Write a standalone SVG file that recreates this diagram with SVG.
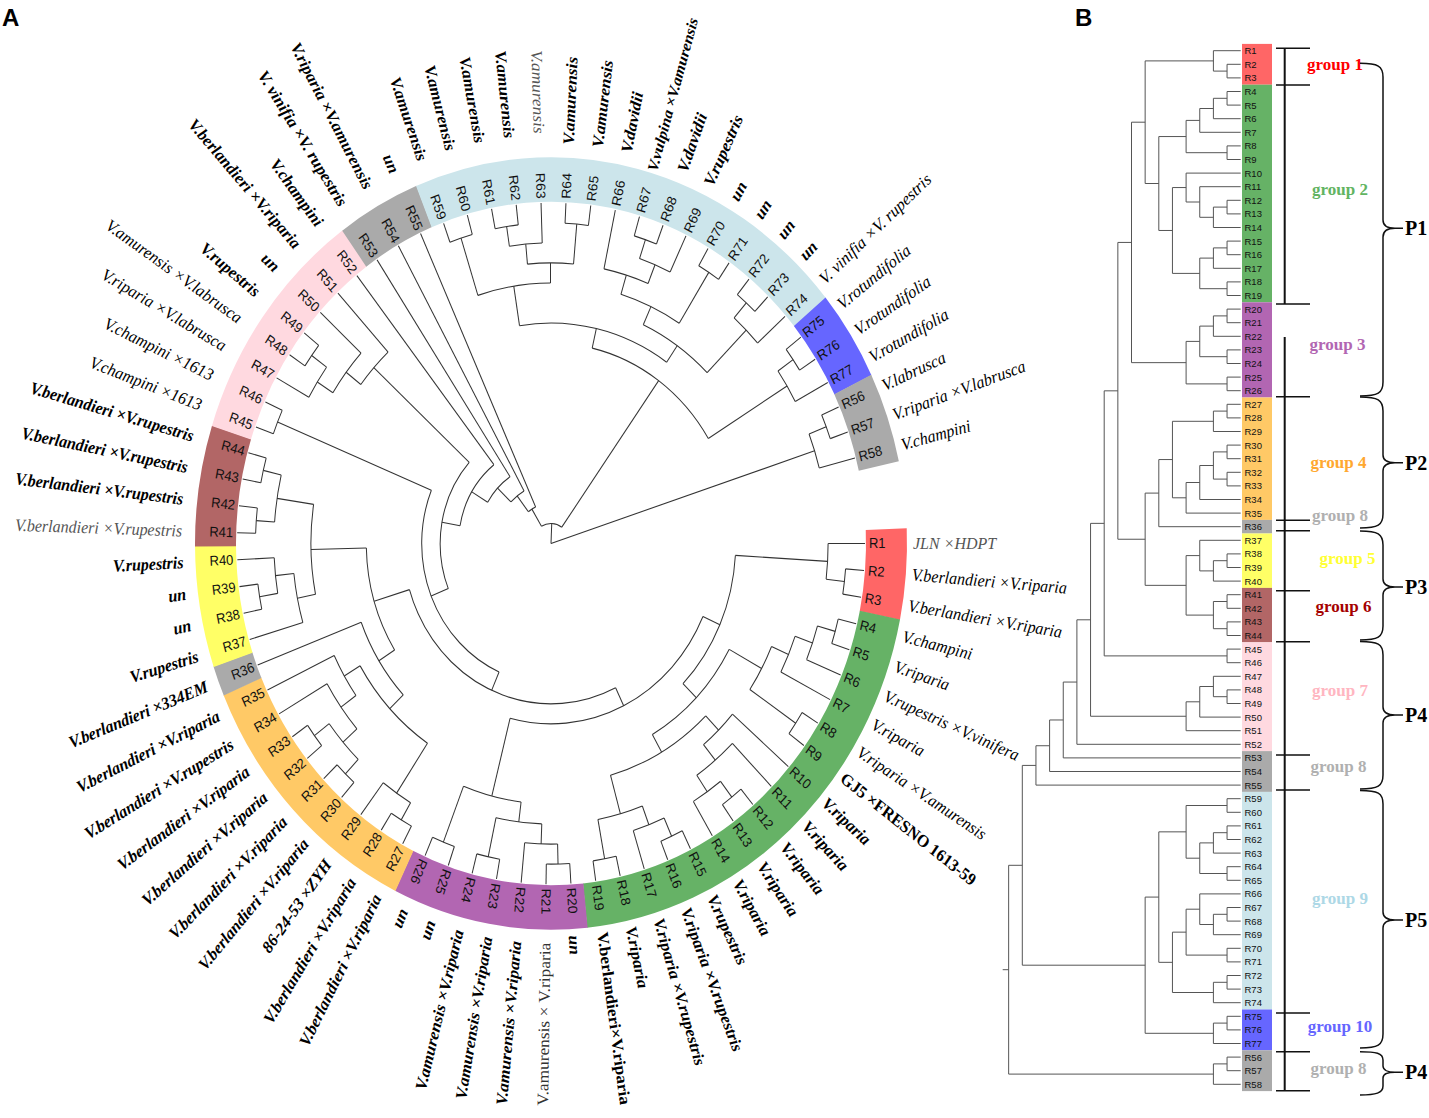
<svg xmlns="http://www.w3.org/2000/svg" width="1429" height="1118" viewBox="0 0 1429 1118">
<style>
.tr path,.tr circle{fill:none;stroke:#333;stroke-width:1}
.rl{font-family:"Liberation Sans",Arial,sans-serif;font-size:13px;fill:#111;dominant-baseline:central}
.sp{font-family:"Liberation Serif","Times New Roman",serif;font-size:16px;font-weight:bold;font-style:italic;fill:#000;dominant-baseline:central}
.ri{font-weight:normal}
.rg{font-weight:normal;fill:#555}
.bu{font-style:normal}
.ru{font-style:normal;font-weight:normal;fill:#333}
.f{text-anchor:end}
.ring circle{fill:none;stroke-width:41}
.bt path{fill:none;stroke:#555;stroke-width:1}
.bl{font-family:"Liberation Sans",Arial,sans-serif;font-size:9.5px;fill:#111;dominant-baseline:central}
.gl{font-family:"Liberation Serif","Times New Roman",serif;font-size:17px;font-weight:bold;text-anchor:middle;dominant-baseline:central}
.pl{font-family:"Liberation Serif","Times New Roman",serif;font-size:20px;font-weight:bold;fill:#000;dominant-baseline:central}
.br path{fill:none;stroke:#111;stroke-width:1.5}
.pn{font-family:"Liberation Sans",Arial,sans-serif;font-size:24px;font-weight:bold;fill:#000}
</style>
<rect width="1429" height="1118" fill="#fff"/>
<text class="pn" x="2" y="26">A</text>
<text class="pn" x="1075" y="26">B</text>
<g id="panelA" transform="translate(551 543.5) scale(1 1.085)">
<g id="ring" class="ring">
<circle r="335.5" pathLength="360" stroke="#FF6666" stroke-dasharray="13.73 400" transform="rotate(-2.273)"/>
<circle r="335.5" pathLength="360" stroke="#66B266" stroke-dasharray="72.8 400" transform="rotate(11.364)"/>
<circle r="335.5" pathLength="360" stroke="#B266B2" stroke-dasharray="31.9 400" transform="rotate(84.091)"/>
<circle r="335.5" pathLength="360" stroke="#FFC966" stroke-dasharray="41 400" transform="rotate(115.909)"/>
<circle r="335.5" pathLength="360" stroke="#AAAAAA" stroke-dasharray="4.64 400" transform="rotate(156.818)"/>
<circle r="335.5" pathLength="360" stroke="#FFFF66" stroke-dasharray="18.27 400" transform="rotate(161.364)"/>
<circle r="335.5" pathLength="360" stroke="#B26666" stroke-dasharray="18.27 400" transform="rotate(179.545)"/>
<circle r="335.5" pathLength="360" stroke="#FFD9E0" stroke-dasharray="36.45 400" transform="rotate(197.727)"/>
<circle r="335.5" pathLength="360" stroke="#AAAAAA" stroke-dasharray="13.73 400" transform="rotate(234.091)"/>
<circle r="335.5" pathLength="360" stroke="#CCE5EB" stroke-dasharray="72.8 400" transform="rotate(247.727)"/>
<circle r="335.5" pathLength="360" stroke="#6666FF" stroke-dasharray="13.73 400" transform="rotate(320.455)"/>
<circle r="335.5" pathLength="360" stroke="#AAAAAA" stroke-dasharray="13.64 400" transform="rotate(334.091)"/>
</g>
<g id="connectors-A" class="tr">
<circle r="295.5" pathLength="360" stroke-dasharray="4.545 999" transform="rotate(4.545)"/><path transform="rotate(4.545)" d="M295.5 0H314"/><path transform="rotate(9.091)" d="M295.5 0H314"/>
<circle r="277.1" pathLength="360" stroke-dasharray="6.818 999" transform="rotate(0)"/><path transform="rotate(0)" d="M277.1 0H314"/><path transform="rotate(6.818)" d="M277.1 0H295.5"/>
<circle r="295.5" pathLength="360" stroke-dasharray="4.546 999" transform="rotate(13.636)"/><path transform="rotate(13.636)" d="M295.5 0H314"/><path transform="rotate(18.182)" d="M295.5 0H314"/>
<circle r="277.1" pathLength="360" stroke-dasharray="6.818 999" transform="rotate(15.909)"/><path transform="rotate(15.909)" d="M277.1 0H295.5"/><path transform="rotate(22.727)" d="M277.1 0H314"/>
<circle r="258.6" pathLength="360" stroke-dasharray="7.955 999" transform="rotate(19.318)"/><path transform="rotate(19.318)" d="M258.6 0H277.1"/><path transform="rotate(27.273)" d="M258.6 0H314"/>
<circle r="295.5" pathLength="360" stroke-dasharray="4.546 999" transform="rotate(31.818)"/><path transform="rotate(31.818)" d="M295.5 0H314"/><path transform="rotate(36.364)" d="M295.5 0H314"/>
<circle r="240.1" pathLength="360" stroke-dasharray="10.796 999" transform="rotate(23.295)"/><path transform="rotate(23.295)" d="M240.1 0H258.6"/><path transform="rotate(34.091)" d="M240.1 0H295.5"/>
<circle r="295.5" pathLength="360" stroke-dasharray="4.545 999" transform="rotate(50)"/><path transform="rotate(50)" d="M295.5 0H314"/><path transform="rotate(54.545)" d="M295.5 0H314"/>
<circle r="277.1" pathLength="360" stroke-dasharray="6.818 999" transform="rotate(52.273)"/><path transform="rotate(52.273)" d="M277.1 0H295.5"/><path transform="rotate(59.091)" d="M277.1 0H314"/>
<circle r="258.6" pathLength="360" stroke-dasharray="10.227 999" transform="rotate(45.455)"/><path transform="rotate(45.455)" d="M258.6 0H314"/><path transform="rotate(55.682)" d="M258.6 0H277.1"/>
<circle r="240.1" pathLength="360" stroke-dasharray="9.659 999" transform="rotate(40.909)"/><path transform="rotate(40.909)" d="M240.1 0H314"/><path transform="rotate(50.568)" d="M240.1 0H258.6"/>
<circle r="295.5" pathLength="360" stroke-dasharray="4.546 999" transform="rotate(63.636)"/><path transform="rotate(63.636)" d="M295.5 0H314"/><path transform="rotate(68.182)" d="M295.5 0H314"/>
<circle r="277.1" pathLength="360" stroke-dasharray="6.818 999" transform="rotate(65.909)"/><path transform="rotate(65.909)" d="M277.1 0H295.5"/><path transform="rotate(72.727)" d="M277.1 0H314"/>
<circle r="295.5" pathLength="360" stroke-dasharray="4.545 999" transform="rotate(77.273)"/><path transform="rotate(77.273)" d="M295.5 0H314"/><path transform="rotate(81.818)" d="M295.5 0H314"/>
<circle r="258.6" pathLength="360" stroke-dasharray="10.227 999" transform="rotate(69.318)"/><path transform="rotate(69.318)" d="M258.6 0H277.1"/><path transform="rotate(79.545)" d="M258.6 0H295.5"/>
<circle r="221.7" pathLength="360" stroke-dasharray="28.693 999" transform="rotate(45.739)"/><path transform="rotate(45.739)" d="M221.7 0H240.1"/><path transform="rotate(74.432)" d="M221.7 0H258.6"/>
<circle r="203.2" pathLength="360" stroke-dasharray="31.392 999" transform="rotate(28.693)"/><path transform="rotate(28.693)" d="M203.2 0H240.1"/><path transform="rotate(60.085)" d="M203.2 0H221.7"/>
<circle r="184.7" pathLength="360" stroke-dasharray="40.98 999" transform="rotate(3.409)"/><path transform="rotate(3.409)" d="M184.7 0H277.1"/><path transform="rotate(44.389)" d="M184.7 0H203.2"/>
<circle r="295.5" pathLength="360" stroke-dasharray="4.545 999" transform="rotate(86.364)"/><path transform="rotate(86.364)" d="M295.5 0H314"/><path transform="rotate(90.909)" d="M295.5 0H314"/>
<circle r="277.1" pathLength="360" stroke-dasharray="6.819 999" transform="rotate(88.636)"/><path transform="rotate(88.636)" d="M277.1 0H295.5"/><path transform="rotate(95.455)" d="M277.1 0H314"/>
<circle r="295.5" pathLength="360" stroke-dasharray="4.545 999" transform="rotate(100)"/><path transform="rotate(100)" d="M295.5 0H314"/><path transform="rotate(104.545)" d="M295.5 0H314"/>
<circle r="258.6" pathLength="360" stroke-dasharray="10.228 999" transform="rotate(92.045)"/><path transform="rotate(92.045)" d="M258.6 0H277.1"/><path transform="rotate(102.273)" d="M258.6 0H295.5"/>
<circle r="295.5" pathLength="360" stroke-dasharray="4.545 999" transform="rotate(109.091)"/><path transform="rotate(109.091)" d="M295.5 0H314"/><path transform="rotate(113.636)" d="M295.5 0H314"/>
<circle r="240.1" pathLength="360" stroke-dasharray="14.205 999" transform="rotate(97.159)"/><path transform="rotate(97.159)" d="M240.1 0H258.6"/><path transform="rotate(111.364)" d="M240.1 0H295.5"/>
<circle r="166.2" pathLength="360" stroke-dasharray="80.362 999" transform="rotate(23.899)"/><path transform="rotate(23.899)" d="M166.2 0H184.7"/><path transform="rotate(104.261)" d="M166.2 0H240.1"/>
<circle r="295.5" pathLength="360" stroke-dasharray="4.545 999" transform="rotate(118.182)"/><path transform="rotate(118.182)" d="M295.5 0H314"/><path transform="rotate(122.727)" d="M295.5 0H314"/>
<circle r="277.1" pathLength="360" stroke-dasharray="6.818 999" transform="rotate(120.455)"/><path transform="rotate(120.455)" d="M277.1 0H295.5"/><path transform="rotate(127.273)" d="M277.1 0H314"/>
<circle r="295.5" pathLength="360" stroke-dasharray="4.546 999" transform="rotate(131.818)"/><path transform="rotate(131.818)" d="M295.5 0H314"/><path transform="rotate(136.364)" d="M295.5 0H314"/>
<circle r="295.5" pathLength="360" stroke-dasharray="4.546 999" transform="rotate(140.909)"/><path transform="rotate(140.909)" d="M295.5 0H314"/><path transform="rotate(145.455)" d="M295.5 0H314"/>
<circle r="277.1" pathLength="360" stroke-dasharray="9.091 999" transform="rotate(134.091)"/><path transform="rotate(134.091)" d="M277.1 0H295.5"/><path transform="rotate(143.182)" d="M277.1 0H295.5"/>
<circle r="258.6" pathLength="360" stroke-dasharray="11.364 999" transform="rotate(138.636)"/><path transform="rotate(138.636)" d="M258.6 0H277.1"/><path transform="rotate(150)" d="M258.6 0H314"/>
<circle r="240.1" pathLength="360" stroke-dasharray="10.227 999" transform="rotate(144.318)"/><path transform="rotate(144.318)" d="M240.1 0H258.6"/><path transform="rotate(154.545)" d="M240.1 0H314"/>
<circle r="221.7" pathLength="360" stroke-dasharray="25.568 999" transform="rotate(123.864)"/><path transform="rotate(123.864)" d="M221.7 0H277.1"/><path transform="rotate(149.432)" d="M221.7 0H240.1"/>
<circle r="203.2" pathLength="360" stroke-dasharray="22.443 999" transform="rotate(136.648)"/><path transform="rotate(136.648)" d="M203.2 0H221.7"/><path transform="rotate(159.091)" d="M203.2 0H314"/>
<circle r="295.5" pathLength="360" stroke-dasharray="4.545 999" transform="rotate(168.182)"/><path transform="rotate(168.182)" d="M295.5 0H314"/><path transform="rotate(172.727)" d="M295.5 0H314"/>
<circle r="277.1" pathLength="360" stroke-dasharray="6.818 999" transform="rotate(170.455)"/><path transform="rotate(170.455)" d="M277.1 0H295.5"/><path transform="rotate(177.273)" d="M277.1 0H314"/>
<circle r="258.6" pathLength="360" stroke-dasharray="10.228 999" transform="rotate(163.636)"/><path transform="rotate(163.636)" d="M258.6 0H314"/><path transform="rotate(173.864)" d="M258.6 0H277.1"/>
<circle r="295.5" pathLength="360" stroke-dasharray="4.546 999" transform="rotate(181.818)"/><path transform="rotate(181.818)" d="M295.5 0H314"/><path transform="rotate(186.364)" d="M295.5 0H314"/>
<circle r="295.5" pathLength="360" stroke-dasharray="4.546 999" transform="rotate(190.909)"/><path transform="rotate(190.909)" d="M295.5 0H314"/><path transform="rotate(195.455)" d="M295.5 0H314"/>
<circle r="277.1" pathLength="360" stroke-dasharray="9.091 999" transform="rotate(184.091)"/><path transform="rotate(184.091)" d="M277.1 0H295.5"/><path transform="rotate(193.182)" d="M277.1 0H295.5"/>
<circle r="240.1" pathLength="360" stroke-dasharray="19.886 999" transform="rotate(168.75)"/><path transform="rotate(168.75)" d="M240.1 0H258.6"/><path transform="rotate(188.636)" d="M240.1 0H277.1"/>
<circle r="184.7" pathLength="360" stroke-dasharray="30.824 999" transform="rotate(147.869)"/><path transform="rotate(147.869)" d="M184.7 0H203.2"/><path transform="rotate(178.693)" d="M184.7 0H240.1"/>
<circle r="147.8" pathLength="360" stroke-dasharray="99.201 999" transform="rotate(64.08)"/><path transform="rotate(64.08)" d="M147.8 0H166.2"/><path transform="rotate(163.281)" d="M147.8 0H184.7"/>
<circle r="295.5" pathLength="360" stroke-dasharray="4.545 999" transform="rotate(200)"/><path transform="rotate(200)" d="M295.5 0H314"/><path transform="rotate(204.545)" d="M295.5 0H314"/>
<circle r="129.3" pathLength="360" stroke-dasharray="88.592 999" transform="rotate(113.681)"/><path transform="rotate(113.681)" d="M129.3 0H147.8"/><path transform="rotate(202.273)" d="M129.3 0H295.5"/>
<circle r="295.5" pathLength="360" stroke-dasharray="4.546 999" transform="rotate(213.636)"/><path transform="rotate(213.636)" d="M295.5 0H314"/><path transform="rotate(218.182)" d="M295.5 0H314"/>
<circle r="277.1" pathLength="360" stroke-dasharray="6.818 999" transform="rotate(209.091)"/><path transform="rotate(209.091)" d="M277.1 0H314"/><path transform="rotate(215.909)" d="M277.1 0H295.5"/>
<circle r="258.6" pathLength="360" stroke-dasharray="10.227 999" transform="rotate(212.5)"/><path transform="rotate(212.5)" d="M258.6 0H277.1"/><path transform="rotate(222.727)" d="M258.6 0H314"/>
<circle r="240.1" pathLength="360" stroke-dasharray="9.659 999" transform="rotate(217.614)"/><path transform="rotate(217.614)" d="M240.1 0H258.6"/><path transform="rotate(227.273)" d="M240.1 0H314"/>
<circle r="110.8" pathLength="360" stroke-dasharray="64.466 999" transform="rotate(157.977)"/><path transform="rotate(157.977)" d="M110.8 0H129.3"/><path transform="rotate(222.443)" d="M110.8 0H240.1"/>
<circle r="92.4" pathLength="360" stroke-dasharray="41.608 999" transform="rotate(190.21)"/><path transform="rotate(190.21)" d="M92.4 0H110.8"/><path transform="rotate(231.818)" d="M92.4 0H314"/>
<circle r="73.9" pathLength="360" stroke-dasharray="25.35 999" transform="rotate(211.014)"/><path transform="rotate(211.014)" d="M73.9 0H92.4"/><path transform="rotate(236.364)" d="M73.9 0H314"/>
<circle r="55.4" pathLength="360" stroke-dasharray="17.22 999" transform="rotate(223.689)"/><path transform="rotate(223.689)" d="M55.4 0H73.9"/><path transform="rotate(240.909)" d="M55.4 0H314"/>
<circle r="37" pathLength="360" stroke-dasharray="13.156 999" transform="rotate(232.299)"/><path transform="rotate(232.299)" d="M37 0H55.4"/><path transform="rotate(245.455)" d="M37 0H314"/>
<circle r="295.5" pathLength="360" stroke-dasharray="4.545 999" transform="rotate(250)"/><path transform="rotate(250)" d="M295.5 0H314"/><path transform="rotate(254.545)" d="M295.5 0H314"/>
<circle r="295.5" pathLength="360" stroke-dasharray="4.545 999" transform="rotate(259.091)"/><path transform="rotate(259.091)" d="M295.5 0H314"/><path transform="rotate(263.636)" d="M295.5 0H314"/>
<circle r="277.1" pathLength="360" stroke-dasharray="6.818 999" transform="rotate(261.364)"/><path transform="rotate(261.364)" d="M277.1 0H295.5"/><path transform="rotate(268.182)" d="M277.1 0H314"/>
<circle r="295.5" pathLength="360" stroke-dasharray="4.546 999" transform="rotate(272.727)"/><path transform="rotate(272.727)" d="M295.5 0H314"/><path transform="rotate(277.273)" d="M295.5 0H314"/>
<circle r="258.6" pathLength="360" stroke-dasharray="10.227 999" transform="rotate(264.773)"/><path transform="rotate(264.773)" d="M258.6 0H277.1"/><path transform="rotate(275)" d="M258.6 0H295.5"/>
<circle r="240.1" pathLength="360" stroke-dasharray="17.613 999" transform="rotate(252.273)"/><path transform="rotate(252.273)" d="M240.1 0H295.5"/><path transform="rotate(269.886)" d="M240.1 0H258.6"/>
<circle r="295.5" pathLength="360" stroke-dasharray="4.545 999" transform="rotate(286.364)"/><path transform="rotate(286.364)" d="M295.5 0H314"/><path transform="rotate(290.909)" d="M295.5 0H314"/>
<circle r="277.1" pathLength="360" stroke-dasharray="6.819 999" transform="rotate(288.636)"/><path transform="rotate(288.636)" d="M277.1 0H295.5"/><path transform="rotate(295.455)" d="M277.1 0H314"/>
<circle r="258.6" pathLength="360" stroke-dasharray="10.227 999" transform="rotate(281.818)"/><path transform="rotate(281.818)" d="M258.6 0H314"/><path transform="rotate(292.045)" d="M258.6 0H277.1"/>
<circle r="295.5" pathLength="360" stroke-dasharray="4.545 999" transform="rotate(300)"/><path transform="rotate(300)" d="M295.5 0H314"/><path transform="rotate(304.545)" d="M295.5 0H314"/>
<circle r="240.1" pathLength="360" stroke-dasharray="15.341 999" transform="rotate(286.932)"/><path transform="rotate(286.932)" d="M240.1 0H258.6"/><path transform="rotate(302.273)" d="M240.1 0H295.5"/>
<circle r="295.5" pathLength="360" stroke-dasharray="4.545 999" transform="rotate(309.091)"/><path transform="rotate(309.091)" d="M295.5 0H314"/><path transform="rotate(313.636)" d="M295.5 0H314"/>
<circle r="277.1" pathLength="360" stroke-dasharray="6.818 999" transform="rotate(311.364)"/><path transform="rotate(311.364)" d="M277.1 0H295.5"/><path transform="rotate(318.182)" d="M277.1 0H314"/>
<circle r="221.7" pathLength="360" stroke-dasharray="20.171 999" transform="rotate(294.602)"/><path transform="rotate(294.602)" d="M221.7 0H240.1"/><path transform="rotate(314.773)" d="M221.7 0H277.1"/>
<circle r="203.2" pathLength="360" stroke-dasharray="43.608 999" transform="rotate(261.08)"/><path transform="rotate(261.08)" d="M203.2 0H240.1"/><path transform="rotate(304.688)" d="M203.2 0H221.7"/>
<circle r="295.5" pathLength="360" stroke-dasharray="4.546 999" transform="rotate(322.727)"/><path transform="rotate(322.727)" d="M295.5 0H314"/><path transform="rotate(327.273)" d="M295.5 0H314"/>
<circle r="277.1" pathLength="360" stroke-dasharray="6.818 999" transform="rotate(325)"/><path transform="rotate(325)" d="M277.1 0H295.5"/><path transform="rotate(331.818)" d="M277.1 0H314"/>
<circle r="184.7" pathLength="360" stroke-dasharray="45.525 999" transform="rotate(282.884)"/><path transform="rotate(282.884)" d="M184.7 0H203.2"/><path transform="rotate(328.409)" d="M184.7 0H277.1"/>
<circle r="18.5" pathLength="360" stroke-dasharray="66.769 999" transform="rotate(238.877)"/><path transform="rotate(238.877)" d="M18.5 0H37"/><path transform="rotate(305.646)" d="M18.5 0H184.7"/>
<circle r="295.5" pathLength="360" stroke-dasharray="4.545 999" transform="rotate(336.364)"/><path transform="rotate(336.364)" d="M295.5 0H314"/><path transform="rotate(340.909)" d="M295.5 0H314"/>
<circle r="277.1" pathLength="360" stroke-dasharray="6.819 999" transform="rotate(338.636)"/><path transform="rotate(338.636)" d="M277.1 0H295.5"/><path transform="rotate(345.455)" d="M277.1 0H314"/>
<path transform="rotate(272.261)" d="M0 0H18.5"/><path transform="rotate(342.045)" d="M0 0H277.1"/>
</g>
<g id="leaves-A">
<g id="a-R1"><text class="rl" transform="rotate(0)" x="318">R1</text><text class="sp rg" transform="rotate(0)" x="362">JLN ×HDPT</text></g>
<g id="a-R2"><text class="rl" transform="rotate(4.545)" x="318">R2</text><text class="sp ri" transform="rotate(4.545)" x="362">V.berlandieri ×V.riparia</text></g>
<g id="a-R3"><text class="rl" transform="rotate(9.091)" x="318">R3</text><text class="sp ri" transform="rotate(9.091)" x="362">V.berlandieri ×V.riparia</text></g>
<g id="a-R4"><text class="rl" transform="rotate(13.636)" x="318">R4</text><text class="sp ri" transform="rotate(13.636)" x="362">V.champini</text></g>
<g id="a-R5"><text class="rl" transform="rotate(18.182)" x="318">R5</text><text class="sp ri" transform="rotate(18.182)" x="362">V.riparia</text></g>
<g id="a-R6"><text class="rl" transform="rotate(22.727)" x="318">R6</text><text class="sp ri" transform="rotate(22.727)" x="362">V.rupestris ×V.vinifera</text></g>
<g id="a-R7"><text class="rl" transform="rotate(27.273)" x="318">R7</text><text class="sp ri" transform="rotate(27.273)" x="362">V.riparia</text></g>
<g id="a-R8"><text class="rl" transform="rotate(31.818)" x="318">R8</text><text class="sp ri" transform="rotate(31.818)" x="362">V.riparia ×V.amurensis</text></g>
<g id="a-R9"><text class="rl" transform="rotate(36.364)" x="318">R9</text><text class="sp bu" transform="rotate(36.364)" x="362">GJ5 ×FRESNO 1613-59</text></g>
<g id="a-R10"><text class="rl" transform="rotate(40.909)" x="318">R10</text><text class="sp" transform="rotate(40.909)" x="362">V.riparia</text></g>
<g id="a-R11"><text class="rl" transform="rotate(45.455)" x="318">R11</text><text class="sp" transform="rotate(45.455)" x="362">V.riparia</text></g>
<g id="a-R12"><text class="rl" transform="rotate(50)" x="318">R12</text><text class="sp" transform="rotate(50)" x="362">V.riparia</text></g>
<g id="a-R13"><text class="rl" transform="rotate(54.545)" x="318">R13</text><text class="sp" transform="rotate(54.545)" x="362">V.riparia</text></g>
<g id="a-R14"><text class="rl" transform="rotate(59.091)" x="318">R14</text><text class="sp" transform="rotate(59.091)" x="362">V.riparia</text></g>
<g id="a-R15"><text class="rl" transform="rotate(63.636)" x="318">R15</text><text class="sp" transform="rotate(63.636)" x="362">V.rupestris</text></g>
<g id="a-R16"><text class="rl" transform="rotate(68.182)" x="318">R16</text><text class="sp" transform="rotate(68.182)" x="362">V.riparia ×V.rupestris</text></g>
<g id="a-R17"><text class="rl" transform="rotate(72.727)" x="318">R17</text><text class="sp" transform="rotate(72.727)" x="362">V.riparia ×V.rupestris</text></g>
<g id="a-R18"><text class="rl" transform="rotate(77.273)" x="318">R18</text><text class="sp" transform="rotate(77.273)" x="362">V.riparia</text></g>
<g id="a-R19"><text class="rl" transform="rotate(81.818)" x="318">R19</text><text class="sp bu" transform="rotate(81.818)" x="362">V.berlandieri×V.riparia</text></g>
<g id="a-R20"><text class="rl" transform="rotate(86.364)" x="318">R20</text><text class="sp" transform="rotate(86.364)" x="362">un</text></g>
<g id="a-R21"><text class="rl" transform="rotate(90.909)" x="318">R21</text><text class="sp ru f" transform="rotate(-89.091)" x="-368">V.amurensis × V.riparia</text></g>
<g id="a-R22"><text class="rl" transform="rotate(95.455)" x="318">R22</text><text class="sp f" transform="rotate(-84.545)" x="-368">V.amurensis ×V.riparia</text></g>
<g id="a-R23"><text class="rl" transform="rotate(100)" x="318">R23</text><text class="sp f" transform="rotate(-80)" x="-368">V.amurensis ×V.riparia</text></g>
<g id="a-R24"><text class="rl" transform="rotate(104.545)" x="318">R24</text><text class="sp f" transform="rotate(-75.455)" x="-368">V.amurensis ×V.riparia</text></g>
<g id="a-R25"><text class="rl" transform="rotate(109.091)" x="318">R25</text><text class="sp f" transform="rotate(-70.909)" x="-368">un</text></g>
<g id="a-R26"><text class="rl" transform="rotate(113.636)" x="318">R26</text><text class="sp f" transform="rotate(-66.364)" x="-368">un</text></g>
<g id="a-R27"><text class="rl f" transform="rotate(-61.818)" x="-318">R27</text><text class="sp f" transform="rotate(-61.818)" x="-368">V.berlandieri ×V.riparia</text></g>
<g id="a-R28"><text class="rl f" transform="rotate(-57.273)" x="-318">R28</text><text class="sp f" transform="rotate(-57.273)" x="-368">V.berlandieri ×V.riparia</text></g>
<g id="a-R29"><text class="rl f" transform="rotate(-52.727)" x="-318">R29</text><text class="sp f" transform="rotate(-52.727)" x="-368">86-24-53 ×ZYH</text></g>
<g id="a-R30"><text class="rl f" transform="rotate(-48.182)" x="-318">R30</text><text class="sp f" transform="rotate(-48.182)" x="-368">V.berlandieri ×V.riparia</text></g>
<g id="a-R31"><text class="rl f" transform="rotate(-43.636)" x="-318">R31</text><text class="sp f" transform="rotate(-43.636)" x="-368">V.berlandieri ×V.riparia</text></g>
<g id="a-R32"><text class="rl f" transform="rotate(-39.091)" x="-318">R32</text><text class="sp f" transform="rotate(-39.091)" x="-368">V.berlandieri ×V.riparia</text></g>
<g id="a-R33"><text class="rl f" transform="rotate(-34.545)" x="-318">R33</text><text class="sp f" transform="rotate(-34.545)" x="-368">V.berlandieri ×V.riparia</text></g>
<g id="a-R34"><text class="rl f" transform="rotate(-30)" x="-318">R34</text><text class="sp f" transform="rotate(-30)" x="-368">V.berlandieri ×V.rupestris</text></g>
<g id="a-R35"><text class="rl f" transform="rotate(-25.455)" x="-318">R35</text><text class="sp f" transform="rotate(-25.455)" x="-368">V.berlandieri ×V.riparia</text></g>
<g id="a-R36"><text class="rl f" transform="rotate(-20.909)" x="-318">R36</text><text class="sp f" transform="rotate(-20.909)" x="-368">V.berlandieri ×334EM</text></g>
<g id="a-R37"><text class="rl f" transform="rotate(-16.364)" x="-318">R37</text><text class="sp f" transform="rotate(-16.364)" x="-368">V.rupestris</text></g>
<g id="a-R38"><text class="rl f" transform="rotate(-11.818)" x="-318">R38</text><text class="sp f" transform="rotate(-11.818)" x="-368">un</text></g>
<g id="a-R39"><text class="rl f" transform="rotate(-7.273)" x="-318">R39</text><text class="sp f" transform="rotate(-7.273)" x="-368">un</text></g>
<g id="a-R40"><text class="rl f" transform="rotate(-2.727)" x="-318">R40</text><text class="sp f" transform="rotate(-2.727)" x="-368">V.rupestris</text></g>
<g id="a-R41"><text class="rl f" transform="rotate(1.818)" x="-318">R41</text><text class="sp rg f" transform="rotate(1.818)" x="-369">V.berlandieri ×V.rupestris</text></g>
<g id="a-R42"><text class="rl f" transform="rotate(6.364)" x="-318">R42</text><text class="sp f" transform="rotate(6.364)" x="-370">V.berlandieri ×V.rupestris</text></g>
<g id="a-R43"><text class="rl f" transform="rotate(10.909)" x="-318">R43</text><text class="sp f" transform="rotate(10.909)" x="-370">V.berlandieri ×V.rupestris</text></g>
<g id="a-R44"><text class="rl f" transform="rotate(15.455)" x="-318">R44</text><text class="sp f" transform="rotate(15.455)" x="-371">V.berlandieri ×V.rupestris</text></g>
<g id="a-R45"><text class="rl f" transform="rotate(20)" x="-318">R45</text><text class="sp ri f" transform="rotate(20)" x="-372">V.champini ×1613</text></g>
<g id="a-R46"><text class="rl f" transform="rotate(24.545)" x="-318">R46</text><text class="sp ri f" transform="rotate(24.545)" x="-372">V.champini ×1613</text></g>
<g id="a-R47"><text class="rl f" transform="rotate(29.091)" x="-318">R47</text><text class="sp ri f" transform="rotate(29.091)" x="-373">V.riparia ×V.labrusca</text></g>
<g id="a-R48"><text class="rl f" transform="rotate(33.636)" x="-318">R48</text><text class="sp ri f" transform="rotate(33.636)" x="-373">V.amurensis ×V.labrusca</text></g>
<g id="a-R49"><text class="rl f" transform="rotate(38.182)" x="-318">R49</text><text class="sp f" transform="rotate(38.182)" x="-373">V.rupestris</text></g>
<g id="a-R50"><text class="rl f" transform="rotate(42.727)" x="-318">R50</text><text class="sp f" transform="rotate(42.727)" x="-373">un</text></g>
<g id="a-R51"><text class="rl f" transform="rotate(47.273)" x="-318">R51</text><text class="sp f" transform="rotate(47.273)" x="-373">V.berlandieri ×V.riparia</text></g>
<g id="a-R52"><text class="rl f" transform="rotate(51.818)" x="-318">R52</text><text class="sp f" transform="rotate(51.818)" x="-374">V.champini</text></g>
<g id="a-R53"><text class="rl f" transform="rotate(56.364)" x="-318">R53</text><text class="sp f" transform="rotate(56.364)" x="-375">V. vinifia ×V. rupestris</text></g>
<g id="a-R54"><text class="rl f" transform="rotate(60.909)" x="-318">R54</text><text class="sp f" transform="rotate(60.909)" x="-375">V.riparia ×V.amurensis</text></g>
<g id="a-R55"><text class="rl f" transform="rotate(65.455)" x="-318">R55</text><text class="sp f" transform="rotate(65.455)" x="-376">un</text></g>
<g id="a-R59"><text class="rl f" transform="rotate(70)" x="-318">R59</text><text class="sp f" transform="rotate(70)" x="-376">V.amurensis</text></g>
<g id="a-R60"><text class="rl f" transform="rotate(74.545)" x="-318">R60</text><text class="sp f" transform="rotate(74.545)" x="-376">V.amurensis</text></g>
<g id="a-R61"><text class="rl f" transform="rotate(79.091)" x="-318">R61</text><text class="sp f" transform="rotate(79.091)" x="-376">V.amurensis</text></g>
<g id="a-R62"><text class="rl f" transform="rotate(83.636)" x="-318">R62</text><text class="sp f" transform="rotate(83.636)" x="-376">V.amurensis</text></g>
<g id="a-R63"><text class="rl f" transform="rotate(88.182)" x="-318">R63</text><text class="sp rg f" transform="rotate(88.182)" x="-378">V.amurensis</text></g>
<g id="a-R64"><text class="rl" transform="rotate(272.727)" x="318">R64</text><text class="sp" transform="rotate(272.727)" x="368">V.amurensis</text></g>
<g id="a-R65"><text class="rl" transform="rotate(277.273)" x="318">R65</text><text class="sp" transform="rotate(277.273)" x="368">V.amurensis</text></g>
<g id="a-R66"><text class="rl" transform="rotate(281.818)" x="318">R66</text><text class="sp" transform="rotate(281.818)" x="368">V.davidii</text></g>
<g id="a-R67"><text class="rl" transform="rotate(286.364)" x="318">R67</text><text class="sp" transform="rotate(286.364)" x="358" style="font-size:15px">V.vulpina ×V.amurensis</text></g>
<g id="a-R68"><text class="rl" transform="rotate(290.909)" x="318">R68</text><text class="sp" transform="rotate(290.909)" x="367">V.davidii</text></g>
<g id="a-R69"><text class="rl" transform="rotate(295.455)" x="318">R69</text><text class="sp" transform="rotate(295.455)" x="366">V.rupestris</text></g>
<g id="a-R70"><text class="rl" transform="rotate(300)" x="318">R70</text><text class="sp" transform="rotate(300)" x="366">un</text></g>
<g id="a-R71"><text class="rl" transform="rotate(304.545)" x="318">R71</text><text class="sp" transform="rotate(304.545)" x="365">un</text></g>
<g id="a-R72"><text class="rl" transform="rotate(309.091)" x="318">R72</text><text class="sp" transform="rotate(309.091)" x="364">un</text></g>
<g id="a-R73"><text class="rl" transform="rotate(313.636)" x="318">R73</text><text class="sp" transform="rotate(313.636)" x="364">un</text></g>
<g id="a-R74"><text class="rl" transform="rotate(318.182)" x="318">R74</text><text class="sp ri" transform="rotate(318.182)" x="363">V. vinifia ×V. rupestris</text></g>
<g id="a-R75"><text class="rl" transform="rotate(322.727)" x="318">R75</text><text class="sp ri" transform="rotate(322.727)" x="362">V.rotundifolia</text></g>
<g id="a-R76"><text class="rl" transform="rotate(327.273)" x="318">R76</text><text class="sp ri" transform="rotate(327.273)" x="362">V.rotundifolia</text></g>
<g id="a-R77"><text class="rl" transform="rotate(331.818)" x="318">R77</text><text class="sp ri" transform="rotate(331.818)" x="362">V.rotundifolia</text></g>
<g id="a-R56"><text class="rl" transform="rotate(336.364)" x="318">R56</text><text class="sp ri" transform="rotate(336.364)" x="362">V.labrusca</text></g>
<g id="a-R57"><text class="rl" transform="rotate(340.909)" x="318">R57</text><text class="sp ri" transform="rotate(340.909)" x="362">V.riparia ×V.labrusca</text></g>
<g id="a-R58"><text class="rl" transform="rotate(345.455)" x="318">R58</text><text class="sp ri" transform="rotate(345.455)" x="362">V.champini</text></g>
</g>
</g>
<g id="panelB">
<g id="strip">
<rect x="1242" y="43.9" width="30" height="40.8" fill="#FF6666"/>
<rect x="1242" y="84.7" width="30" height="217.6" fill="#66B266"/>
<rect x="1242" y="302.3" width="30" height="95.2" fill="#B266B2"/>
<rect x="1242" y="397.5" width="30" height="122.4" fill="#FFC966"/>
<rect x="1242" y="519.9" width="30" height="13.6" fill="#AAAAAA"/>
<rect x="1242" y="533.5" width="30" height="54.4" fill="#FFFF66"/>
<rect x="1242" y="587.9" width="30" height="54.4" fill="#B26666"/>
<rect x="1242" y="642.3" width="30" height="108.8" fill="#FFD9E0"/>
<rect x="1242" y="751.1" width="30" height="40.8" fill="#AAAAAA"/>
<rect x="1242" y="791.9" width="30" height="217.6" fill="#CCE5EB"/>
<rect x="1242" y="1009.5" width="30" height="40.8" fill="#6666FF"/>
<rect x="1242" y="1050.3" width="30" height="40.8" fill="#AAAAAA"/>
</g>
<g id="connectors-B" class="bt">
<path d="M1240.7 64.3H1227.05V77.9H1240.7"/>
<path d="M1240.7 50.7H1213.4V71.1H1227.05"/>
<path d="M1240.7 91.5H1227.05V105.1H1240.7"/>
<path d="M1227.05 98.3H1213.4V118.7H1240.7"/>
<path d="M1213.4 108.5H1199.75V132.3H1240.7"/>
<path d="M1240.7 145.9H1227.05V159.5H1240.7"/>
<path d="M1199.75 120.4H1186.1V152.7H1227.05"/>
<path d="M1240.7 200.3H1227.05V213.9H1240.7"/>
<path d="M1227.05 207.1H1213.4V227.5H1240.7"/>
<path d="M1240.7 186.7H1199.75V217.3H1213.4"/>
<path d="M1240.7 173.1H1186.1V202H1199.75"/>
<path d="M1240.7 241.1H1227.05V254.7H1240.7"/>
<path d="M1227.05 247.9H1213.4V268.3H1240.7"/>
<path d="M1240.7 281.9H1227.05V295.5H1240.7"/>
<path d="M1213.4 258.1H1199.75V288.7H1227.05"/>
<path d="M1186.1 187.55H1172.45V273.4H1199.75"/>
<path d="M1186.1 136.55H1158.8V230.475H1172.45"/>
<path d="M1213.4 60.9H1145.15V183.51H1158.8"/>
<path d="M1240.7 309.1H1227.05V322.7H1240.7"/>
<path d="M1227.05 315.9H1213.4V336.3H1240.7"/>
<path d="M1240.7 349.9H1227.05V363.5H1240.7"/>
<path d="M1213.4 326.1H1199.75V356.7H1227.05"/>
<path d="M1240.7 377.1H1227.05V390.7H1240.7"/>
<path d="M1199.75 341.4H1186.1V383.9H1227.05"/>
<path d="M1145.15 122.2H1131.5V362.65H1186.1"/>
<path d="M1240.7 404.3H1227.05V417.9H1240.7"/>
<path d="M1227.05 411.1H1213.4V431.5H1240.7"/>
<path d="M1240.7 445.1H1227.05V458.7H1240.7"/>
<path d="M1240.7 472.3H1227.05V485.9H1240.7"/>
<path d="M1227.05 451.9H1213.4V479.1H1227.05"/>
<path d="M1213.4 465.5H1199.75V499.5H1240.7"/>
<path d="M1199.75 482.5H1186.1V513.1H1240.7"/>
<path d="M1213.4 421.3H1172.45V497.8H1186.1"/>
<path d="M1172.45 459.55H1158.8V526.7H1240.7"/>
<path d="M1240.7 553.9H1227.05V567.5H1240.7"/>
<path d="M1227.05 560.7H1213.4V581.1H1240.7"/>
<path d="M1240.7 540.3H1199.75V570.9H1213.4"/>
<path d="M1240.7 594.7H1227.05V608.3H1240.7"/>
<path d="M1240.7 621.9H1227.05V635.5H1240.7"/>
<path d="M1227.05 601.5H1213.4V628.7H1227.05"/>
<path d="M1199.75 555.6H1186.1V615.1H1213.4"/>
<path d="M1158.8 493.1H1145.15V585.35H1186.1"/>
<path d="M1131.5 242.43H1117.85V539.24H1145.15"/>
<path d="M1240.7 649.1H1227.05V662.7H1240.7"/>
<path d="M1117.85 390.83H1104.2V655.9H1227.05"/>
<path d="M1240.7 689.9H1227.05V703.5H1240.7"/>
<path d="M1240.7 676.3H1213.4V696.7H1227.05"/>
<path d="M1213.4 686.5H1199.75V717.1H1240.7"/>
<path d="M1199.75 701.8H1186.1V730.7H1240.7"/>
<path d="M1104.2 523.37H1090.55V716.25H1186.1"/>
<path d="M1090.55 619.81H1076.9V744.3H1240.7"/>
<path d="M1076.9 682.05H1063.25V757.9H1240.7"/>
<path d="M1063.25 719.98H1049.6V771.5H1240.7"/>
<path d="M1049.6 745.74H1035.95V785.1H1240.7"/>
<path d="M1240.7 798.7H1227.05V812.3H1240.7"/>
<path d="M1240.7 825.9H1227.05V839.5H1240.7"/>
<path d="M1227.05 832.7H1213.4V853.1H1240.7"/>
<path d="M1240.7 866.7H1227.05V880.3H1240.7"/>
<path d="M1213.4 842.9H1199.75V873.5H1227.05"/>
<path d="M1227.05 805.5H1186.1V858.2H1199.75"/>
<path d="M1240.7 907.5H1227.05V921.1H1240.7"/>
<path d="M1227.05 914.3H1213.4V934.7H1240.7"/>
<path d="M1240.7 893.9H1199.75V924.5H1213.4"/>
<path d="M1240.7 948.3H1227.05V961.9H1240.7"/>
<path d="M1199.75 909.2H1186.1V955.1H1227.05"/>
<path d="M1240.7 975.5H1227.05V989.1H1240.7"/>
<path d="M1227.05 982.3H1213.4V1002.7H1240.7"/>
<path d="M1186.1 932.15H1172.45V992.5H1213.4"/>
<path d="M1186.1 831.85H1158.8V962.33H1172.45"/>
<path d="M1240.7 1016.3H1227.05V1029.9H1240.7"/>
<path d="M1227.05 1023.1H1213.4V1043.5H1240.7"/>
<path d="M1158.8 897.09H1145.15V1033.3H1213.4"/>
<path d="M1035.95 765.42H1022.3V965.19H1145.15"/>
<path d="M1240.7 1057.1H1227.05V1070.7H1240.7"/>
<path d="M1227.05 1063.9H1213.4V1084.3H1240.7"/>
<path d="M1022.3 865.31H1008.65V1074.1H1213.4M1008.65 969.7H1002.7"/>
</g>
<g id="leaves-B">
<text class="bl" x="1244.5" y="50.7">R1</text><text class="bl" x="1244.5" y="64.3">R2</text><text class="bl" x="1244.5" y="77.9">R3</text>
<text class="bl" x="1244.5" y="91.5">R4</text><text class="bl" x="1244.5" y="105.1">R5</text><text class="bl" x="1244.5" y="118.7">R6</text><text class="bl" x="1244.5" y="132.3">R7</text><text class="bl" x="1244.5" y="145.9">R8</text><text class="bl" x="1244.5" y="159.5">R9</text><text class="bl" x="1244.5" y="173.1">R10</text><text class="bl" x="1244.5" y="186.7">R11</text><text class="bl" x="1244.5" y="200.3">R12</text><text class="bl" x="1244.5" y="213.9">R13</text><text class="bl" x="1244.5" y="227.5">R14</text><text class="bl" x="1244.5" y="241.1">R15</text><text class="bl" x="1244.5" y="254.7">R16</text><text class="bl" x="1244.5" y="268.3">R17</text><text class="bl" x="1244.5" y="281.9">R18</text><text class="bl" x="1244.5" y="295.5">R19</text>
<text class="bl" x="1244.5" y="309.1">R20</text><text class="bl" x="1244.5" y="322.7">R21</text><text class="bl" x="1244.5" y="336.3">R22</text><text class="bl" x="1244.5" y="349.9">R23</text><text class="bl" x="1244.5" y="363.5">R24</text><text class="bl" x="1244.5" y="377.1">R25</text><text class="bl" x="1244.5" y="390.7">R26</text>
<text class="bl" x="1244.5" y="404.3">R27</text><text class="bl" x="1244.5" y="417.9">R28</text><text class="bl" x="1244.5" y="431.5">R29</text><text class="bl" x="1244.5" y="445.1">R30</text><text class="bl" x="1244.5" y="458.7">R31</text><text class="bl" x="1244.5" y="472.3">R32</text><text class="bl" x="1244.5" y="485.9">R33</text><text class="bl" x="1244.5" y="499.5">R34</text><text class="bl" x="1244.5" y="513.1">R35</text><text class="bl" x="1244.5" y="526.7">R36</text>
<text class="bl" x="1244.5" y="540.3">R37</text><text class="bl" x="1244.5" y="553.9">R38</text><text class="bl" x="1244.5" y="567.5">R39</text><text class="bl" x="1244.5" y="581.1">R40</text><text class="bl" x="1244.5" y="594.7">R41</text><text class="bl" x="1244.5" y="608.3">R42</text><text class="bl" x="1244.5" y="621.9">R43</text><text class="bl" x="1244.5" y="635.5">R44</text>
<text class="bl" x="1244.5" y="649.1">R45</text><text class="bl" x="1244.5" y="662.7">R46</text><text class="bl" x="1244.5" y="676.3">R47</text><text class="bl" x="1244.5" y="689.9">R48</text><text class="bl" x="1244.5" y="703.5">R49</text><text class="bl" x="1244.5" y="717.1">R50</text><text class="bl" x="1244.5" y="730.7">R51</text><text class="bl" x="1244.5" y="744.3">R52</text><text class="bl" x="1244.5" y="757.9">R53</text><text class="bl" x="1244.5" y="771.5">R54</text><text class="bl" x="1244.5" y="785.1">R55</text>
<text class="bl" x="1244.5" y="798.7">R59</text><text class="bl" x="1244.5" y="812.3">R60</text><text class="bl" x="1244.5" y="825.9">R61</text><text class="bl" x="1244.5" y="839.5">R62</text><text class="bl" x="1244.5" y="853.1">R63</text><text class="bl" x="1244.5" y="866.7">R64</text><text class="bl" x="1244.5" y="880.3">R65</text><text class="bl" x="1244.5" y="893.9">R66</text><text class="bl" x="1244.5" y="907.5">R67</text><text class="bl" x="1244.5" y="921.1">R68</text><text class="bl" x="1244.5" y="934.7">R69</text><text class="bl" x="1244.5" y="948.3">R70</text><text class="bl" x="1244.5" y="961.9">R71</text><text class="bl" x="1244.5" y="975.5">R72</text><text class="bl" x="1244.5" y="989.1">R73</text><text class="bl" x="1244.5" y="1002.7">R74</text>
<text class="bl" x="1244.5" y="1016.3">R75</text><text class="bl" x="1244.5" y="1029.9">R76</text><text class="bl" x="1244.5" y="1043.5">R77</text><text class="bl" x="1244.5" y="1057.1">R56</text><text class="bl" x="1244.5" y="1070.7">R57</text><text class="bl" x="1244.5" y="1084.3">R58</text>
</g>
<g id="brackets" class="br">
<path d="M1284.7 48V304M1284.7 337V1091" style="stroke-width:2"/>
<path d="M1276 48.3H1310M1276 85H1310M1276 304H1310M1276 396.7H1310M1276 520.3H1310M1276 530.7H1310M1276 590.7H1310M1276 641.7H1310M1276 755H1310M1276 790H1310M1276 1013H1310M1276 1051.7H1310M1276 1090.7H1310"/>
</g>
<g id="group-labels">
<text class="gl" x="1335" y="64" fill="#FF0000">group 1</text>
<text class="gl" x="1340" y="189.3" fill="#62B462">group 2</text>
<text class="gl" x="1337.5" y="344" fill="#B266B2">group 3</text>
<text class="gl" x="1338.5" y="462.3" fill="#FFA830">group 4</text>
<text class="gl" x="1340" y="515.7" fill="#B0B0B0">group 8</text>
<text class="gl" x="1347.5" y="558" fill="#FFFF33">group 5</text>
<text class="gl" x="1343.5" y="606.7" fill="#A50000">group 6</text>
<text class="gl" x="1340" y="690" fill="#FFB6C1">group 7</text>
<text class="gl" x="1338.5" y="766.7" fill="#B0B0B0">group 8</text>
<text class="gl" x="1340" y="898.3" fill="#ADD8E6">group 9</text>
<text class="gl" x="1340" y="1026.7" fill="#6666FF">group 10</text>
<text class="gl" x="1338.5" y="1068.3" fill="#B0B0B0">group 8</text>
</g>
<g id="braces" class="br">
<path d="M1360 63.3C1378 63.3 1383 66 1383 77V220C1383 226 1388 228.3 1395 228.3C1388 228.3 1383 231 1383 237V382C1383 393 1378 396 1360 396M1395 228.3H1403"/>
<path d="M1360 397C1378 397 1383 400 1383 411V455C1383 461 1388 462.7 1395 462.7C1388 462.7 1383 465 1383 471V514C1383 525 1378 528 1360 528M1395 462.7H1403"/>
<path d="M1360 531C1378 531 1383 534 1383 545V579C1383 585 1388 587 1395 587C1388 587 1383 589 1383 595V626C1383 637 1378 640 1360 640M1395 587H1403"/>
<path d="M1360 641.5C1378 641.5 1383 644 1383 655V707C1383 713 1388 715 1395 715C1388 715 1383 717 1383 723V775C1383 786 1378 789 1360 789M1395 715H1403"/>
<path d="M1360 790.5C1378 790.5 1383 793 1383 804V912C1383 918 1388 920 1395 920C1388 920 1383 922 1383 928V1034C1383 1045 1378 1048 1360 1048M1395 920H1403"/>
<path d="M1360 1051.7C1376 1051.7 1383 1053 1383 1060V1066C1383 1070 1388 1072.3 1395 1072.3C1388 1072.3 1383 1074 1383 1078V1086C1383 1093 1376 1095 1360 1095M1395 1072.3H1403"/>
</g>
<g id="p-labels">
<text class="pl" x="1405" y="228.3">P1</text>
<text class="pl" x="1405" y="462.7">P2</text>
<text class="pl" x="1405" y="587">P3</text>
<text class="pl" x="1405" y="715">P4</text>
<text class="pl" x="1405" y="920">P5</text>
<text class="pl" x="1405" y="1072.3">P4</text>
</g>
</g>
</svg>
